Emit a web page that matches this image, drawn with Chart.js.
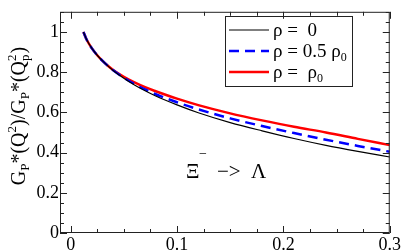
<!DOCTYPE html>
<html lang="en">
<head>
  <meta charset="UTF-8" />
  <title>Xi- to Lambda form factor ratio</title>
  <script src="https://cdn.jsdelivr.net/npm/chart.js"></script>
  <style>
    html, body { margin: 0; padding: 0; background: #fff; }
    #wrap { width: 402px; height: 250px; }
  </style>
</head>
<body>
<div id="wrap"><canvas id="ratioChart" width="402" height="250"></canvas></div>

<script>
  // Q^2 values (x axis) and the three curves
  const q2 = [0.012, 0.015, 0.02, 0.025, 0.03, 0.035, 0.04, 0.05, 0.06, 0.07, 0.08, 0.1, 0.12, 0.15, 0.18, 0.21, 0.24, 0.27, 0.3];
  const rhoZero = [1.0, 0.962, 0.918, 0.884, 0.856, 0.831, 0.808, 0.769, 0.736, 0.707, 0.681, 0.637, 0.598, 0.549, 0.508, 0.47, 0.436, 0.406, 0.378];
  const rhoHalf = [1.0, 0.962, 0.918, 0.884, 0.856, 0.831, 0.809, 0.772, 0.741, 0.714, 0.69, 0.65, 0.615, 0.57, 0.532, 0.497, 0.464, 0.433, 0.404];
  const rhoFull = [1.0, 0.962, 0.918, 0.884, 0.856, 0.832, 0.811, 0.777, 0.749, 0.725, 0.705, 0.668, 0.636, 0.595, 0.56, 0.528, 0.5, 0.468, 0.437];

  const xTicks = [0, 0.1, 0.2, 0.3];
  const yTicks = [0, 0.2, 0.4, 0.6, 0.8, 1];
  const legendLabels = [['ρ =  0', ''], ['ρ = 0.5 ρ', '0'], ['ρ =  ρ', '0']];

  const serif = '"Liberation Serif", "DejaVu Serif", serif';

  const toPoints = ys => ys.map((y, i) => ({ x: q2[i], y: y }));

  // frame, inward ticks, y title, legend and label
  const decor = {
    id: 'decor',
    afterDraw(chart) {
      const ctx = chart.ctx;
      const a = chart.chartArea;
      const xs = chart.scales.x, ys = chart.scales.y;
      ctx.save();
      ctx.strokeStyle = '#222';
      ctx.lineWidth = 1;
      ctx.strokeRect(a.left + 0.5, a.top + 0.5, a.right - a.left - 1, a.bottom - a.top - 1);

      ctx.beginPath();
      for (let v = 0; v <= 0.3001; v += 0.025) {
        const px = Math.round(xs.getPixelForValue(v)) + 0.5;
        const major = Math.abs(v * 10 - Math.round(v * 10)) < 1e-6;
        const len = major ? 7 : 4;
        ctx.moveTo(px, a.bottom); ctx.lineTo(px, a.bottom - len);
        ctx.moveTo(px, a.top); ctx.lineTo(px, a.top + len);
      }
      for (let v = 0; v <= 1.1001; v += 0.05) {
        const py = Math.round(ys.getPixelForValue(v)) + 0.5;
        const major = Math.abs(v * 5 - Math.round(v * 5)) < 1e-6;
        const len = major ? 7 : 4;
        ctx.moveTo(a.left, py); ctx.lineTo(a.left + len, py);
        ctx.moveTo(a.right, py); ctx.lineTo(a.right - len, py);
      }
      ctx.stroke();

      // y axis title: G_P*(Q^2)/G_P*(Q_p^2)
      ctx.fillStyle = '#000';
      ctx.textBaseline = 'alphabetic';
      ctx.textAlign = 'left';
      const big = '20px ' + serif, small = '13px ' + serif;
      const parts = [
        ['G', big, 0], ['P', small, 4], ['*(Q', big, 0], ['2', small, -9],
        [')/G', big, 0], ['P', small, 4], ['*(Q', big, 0], ['p|2', small, 0], [')', big, 0]
      ];
      let total = 0;
      parts.forEach(p => {
        ctx.font = p[1];
        if (p[0] === 'p|2') total += Math.max(ctx.measureText('p').width, ctx.measureText('2').width) + 1;
        else total += ctx.measureText(p[0]).width;
      });
      ctx.translate(25, 116);
      ctx.rotate(-Math.PI / 2);
      let cx = -total / 2;
      parts.forEach(p => {
        ctx.font = p[1];
        if (p[0] === 'p|2') {
          ctx.fillText('p', cx, 4);
          ctx.fillText('2', cx, -9);
          cx += Math.max(ctx.measureText('p').width, ctx.measureText('2').width) + 1;
        } else {
          ctx.fillText(p[0], cx, p[2]);
          cx += ctx.measureText(p[0]).width;
        }
      });
      ctx.restore();

      // legend box
      ctx.save();
      ctx.strokeStyle = '#222';
      ctx.lineWidth = 1;
      ctx.strokeRect(225.5, 16.5, 127, 70);
      chart.data.datasets.forEach((ds, i) => {
        const yy = 30 + i * 21;
        ctx.beginPath();
        ctx.strokeStyle = ds.borderColor;
        ctx.lineWidth = ds.borderWidth;
        ctx.setLineDash(ds.borderDash || []);
        ctx.moveTo(229, yy); ctx.lineTo(269, yy);
        ctx.stroke();
        ctx.setLineDash([]);
        ctx.fillStyle = '#000';
        ctx.font = '19px ' + serif;
        ctx.textBaseline = 'middle';
        ctx.fillText(legendLabels[i][0], 273, yy + 1);
        const w = ctx.measureText(legendLabels[i][0]).width;
        ctx.font = '12px ' + serif;
        ctx.fillText(legendLabels[i][1], 273 + w, yy + 7);
      });

      // reaction label
      ctx.fillStyle = '#000';
      ctx.textBaseline = 'alphabetic';
      ctx.font = '21px ' + serif;
      ctx.fillText('Ξ', 186, 178);
      ctx.font = '14px ' + serif;
      ctx.fillText('−', 199, 158);
      ctx.font = '21px ' + serif;
      ctx.fillText('−>', 217, 178);
      ctx.fillText('Λ', 251, 178);
      ctx.restore();
    }
  };

  new Chart(document.getElementById('ratioChart'), {
    type: 'line',
    data: {
      datasets: [
        { label: 'ρ = 0', data: toPoints(rhoZero), borderColor: '#000000', borderWidth: 1.2 },
        { label: 'ρ = 0.5 ρ0', data: toPoints(rhoHalf), borderColor: '#0000ff', borderWidth: 2.5, borderDash: [10, 6] },
        { label: 'ρ = ρ0', data: toPoints(rhoFull), borderColor: '#ff0000', borderWidth: 2.5 }
      ]
    },
    options: {
      responsive: false,
      animation: false,
      devicePixelRatio: 1,
      layout: { padding: { left: 0, right: 11, top: 2, bottom: 0 } },
      elements: { point: { radius: 0 }, line: { cubicInterpolationMode: 'monotone', fill: false } },
      plugins: { legend: { display: false }, tooltip: { enabled: false } },
      scales: {
        x: {
          type: 'linear', min: -0.01, max: 0.3,
          grid: { display: false, drawTicks: false },
          border: { display: false },
          afterBuildTicks: s => { s.ticks = xTicks.map(v => ({ value: v })); },
          afterFit: s => { s.height = 17; },
          ticks: { color: '#000', padding: 1, maxRotation: 0, font: { family: serif, size: 18 }, callback: v => String(v) }
        },
        y: {
          min: 0, max: 1.1,
          grid: { display: false, drawTicks: false },
          border: { display: false },
          afterBuildTicks: s => { s.ticks = yTicks.map(v => ({ value: v })); },
          afterFit: s => { s.width = 60; },
          ticks: { color: '#000', padding: 1, font: { family: serif, size: 18 }, callback: v => String(v) }
        }
      }
    },
    plugins: [decor]
  });
</script>
</body>
</html>
